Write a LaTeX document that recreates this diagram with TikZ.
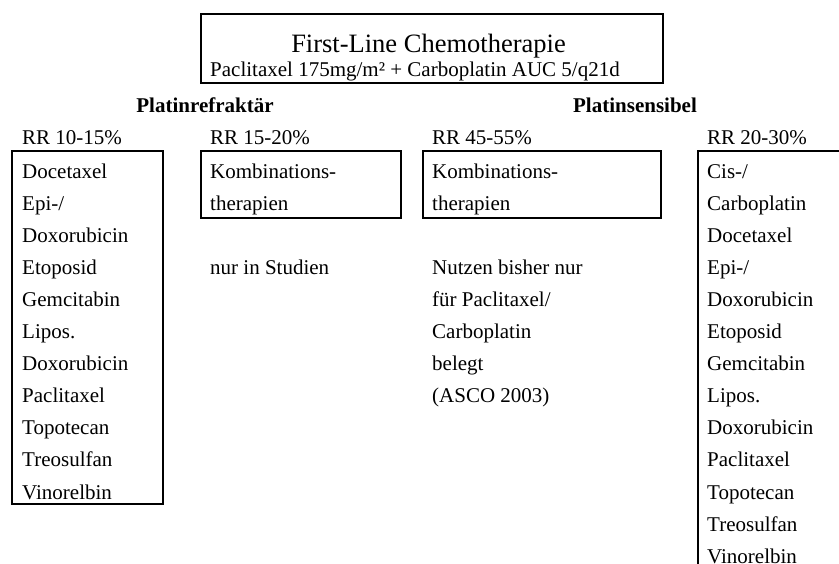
\documentclass[tikz,border=0pt]{standalone}
\usepackage{fontspec}
\setmainfont{Liberation Serif}
\begin{document}
\begin{tikzpicture}[x=1pt,y=-1pt,
  box/.style={draw=black,line width=1.8pt,inner sep=0pt,anchor=north west},
  txt/.style={anchor=base west,inner sep=0pt,font=\fontsize{21}{25}\selectfont},
  head/.style={anchor=base,inner sep=0pt,font=\fontsize{21}{25}\selectfont\bfseries},
  ttl/.style={anchor=base,inner sep=0pt,font=\fontsize{26.5}{30}\selectfont}]
\useasboundingbox (0,0) rectangle (839,563);
\fill[white] (0,0) rectangle (839,563);
\clip (0,0) rectangle (839,563);
% top box
\node[box,minimum width=462pt,minimum height=69pt] (top) at (200,13) {};
\node[ttl] (title) at (428.5,52) {First-Line Chemotherapie};
\node[txt] (sub) at (210,76) {Paclitaxel 175mg/m² + Carboplatin AUC 5/q21d};
% headers
\node[head] (h1) at (205,112) {Platinrefraktär};
\node[head] (h2) at (635,112) {Platinsensibel};
% RR labels
\node[txt] (rr1) at (22,144) {RR 10-15\%};
\node[txt] (rr2) at (210,144) {RR 15-20\%};
\node[txt] (rr3) at (432,144) {RR 45-55\%};
\node[txt] (rr4) at (707,144) {RR 20-30\%};
% boxes
\node[box,minimum width=151pt,minimum height=353pt] (b1) at (11,150) {};
\node[box,minimum width=200pt,minimum height=67pt] (b2) at (200,150) {};
\node[box,minimum width=238pt,minimum height=67pt] (b3) at (422,150) {};
\node[box,minimum width=200pt,minimum height=460pt] (b4) at (697,150) {};
% column 1
\foreach \t [count=\i from 0] in {Docetaxel,Epi-/,Doxorubicin,Etoposid,Gemcitabin,Lipos.,Doxorubicin,Paclitaxel,Topotecan,Treosulfan,Vinorelbin}
  \node[txt] (c1-\i) at (22,{178+\i*32.1}) {\t};
% column 2
\foreach \t [count=\i from 0] in {Kombinations-,therapien}
  \node[txt] (c2-\i) at (210,{178+\i*32.1}) {\t};
\node[txt] (c2-3) at (210,{178+3*32.1}) {nur in Studien};
% column 3
\foreach \t [count=\i from 0] in {Kombinations-,therapien}
  \node[txt] (c3-\i) at (432,{178+\i*32.1}) {\t};
\foreach \t [count=\i from 3] in {Nutzen bisher nur,für Paclitaxel/,Carboplatin,belegt,(ASCO 2003)}
  \node[txt] (c3-\i) at (432,{178+\i*32.1}) {\t};
% column 4
\foreach \t [count=\i from 0] in {Cis-/,Carboplatin,Docetaxel,Epi-/,Doxorubicin,Etoposid,Gemcitabin,Lipos.,Doxorubicin,Paclitaxel,Topotecan,Treosulfan,Vinorelbin}
  \node[txt] (c4-\i) at (707,{178+\i*32.1}) {\t};
\end{tikzpicture}
\end{document}
